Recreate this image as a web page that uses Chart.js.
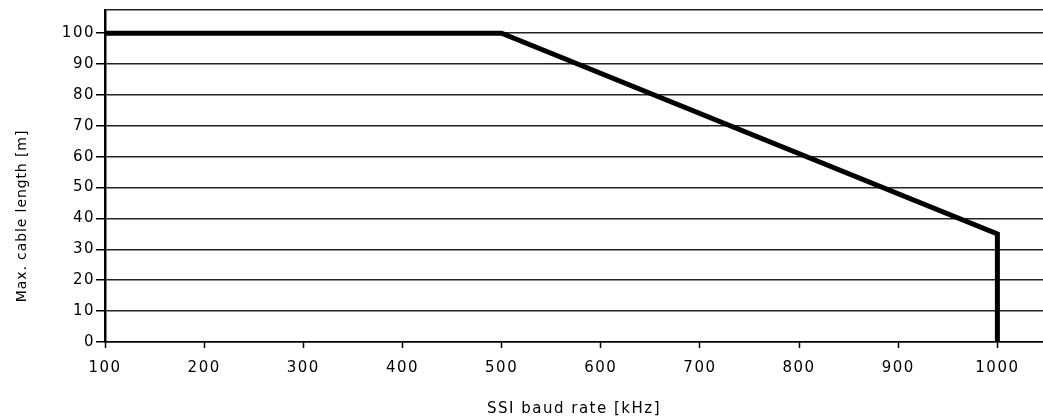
<!DOCTYPE html>
<html>
<head>
<meta charset="utf-8">
<script src="https://cdn.jsdelivr.net/npm/chart.js@4/dist/chart.umd.min.js"></script>
<style>
  html, body { margin: 0; padding: 0; background: #fff; }
  #graph { display: block; }
</style>
</head>
<body>
<canvas id="graph" width="1043" height="420"></canvas>
<script>
// Dati
const baudRate = [100, 500, 1000, 1000];     // kHz
const cableLength = [100, 100, 35, 0];       // m
const xTicks = [100, 200, 300, 400, 500, 600, 700, 800, 900, 1000];
const yTicks = [0, 10, 20, 30, 40, 50, 60, 70, 80, 90, 100];

const X_MAX = 1046;
const Y_MAX = 107.5;
const Y_TITLE = 'Max. cable length [m]';

// le scritte della scansione sono "larghe": le allargo con letterSpacing
const spacing = {
	id: 'spacing',
	beforeUpdate(chart) { chart.ctx.letterSpacing = '1.5px'; },
	beforeDraw(chart) { chart.ctx.letterSpacing = '1.5px'; }
};

// titolo asse y: nell'originale non e' centrato sull'area del grafico
const yTitle = {
	id: 'yTitle',
	afterDraw(chart) {
		const ctx = chart.ctx;
		ctx.save();
		ctx.translate(22, 216);
		ctx.rotate(-Math.PI / 2);
		ctx.font = "14px 'DejaVu Sans', sans-serif";
		ctx.letterSpacing = '0.9px';
		ctx.fillStyle = '#000';
		ctx.textAlign = 'center';
		ctx.textBaseline = 'middle';
		ctx.fillText(Y_TITLE, 0, 0);
		ctx.restore();
	}
};

const font = { family: "'DejaVu Sans', sans-serif", size: 15 };

let config = {
	type: 'line',
	data: {
		datasets: [{
			data: baudRate.map((x, i) => ({ x: x, y: cableLength[i] })),
			borderColor: '#000',
			borderWidth: 5,
			borderJoinStyle: 'miter',
			pointRadius: 0,
			tension: 0,
			fill: false
		}]
	},
	options: {
		responsive: false,
		animation: false,
		layout: { padding: { top: 6, right: 0, left: 0, bottom: 0 } },
		plugins: {
			legend: { display: false },
			tooltip: { enabled: false }
		},
		scales: {
			x: {
				type: 'linear',
				min: 100,
				max: X_MAX,
				afterBuildTicks: (scale) => { scale.ticks = xTicks.map(v => ({ value: v })); },
				afterFit: (scale) => { scale.height = 78; },
				border: { display: true, color: '#000', width: 1.5 },
				grid: { drawOnChartArea: false, tickLength: 6, tickColor: '#000', tickWidth: 1.5 },
				ticks: {
					color: '#000',
					font: font,
					padding: 11,
					maxRotation: 0,
					autoSkip: false,
					callback: (v) => String(v)
				},
				title: {
					display: true,
					text: 'SSI baud rate [kHz]',
					color: '#000',
					font: font,
					padding: { top: 0, bottom: 2 }
				}
			},
			y: {
				min: 0,
				max: Y_MAX,
				afterBuildTicks: (scale) => {
					scale.ticks = yTicks.map(v => ({ value: v }));
					scale.ticks.push({ value: Y_MAX });
				},
				afterFit: (scale) => { scale.width = 105; },
				border: { display: true, color: '#000', width: 2.5 },
				grid: {
					color: '#222',
					lineWidth: 1.5,
					tickLength: 9,
					tickWidth: 1.5,
					tickColor: (ctx) => (ctx.tick && ctx.tick.value > 100) ? 'rgba(0,0,0,0)' : '#000'
				},
				ticks: {
					color: '#000',
					font: font,
					padding: 1,
					autoSkip: false,
					callback: (v) => v > 100 ? '' : String(v)
				},
				title: { display: false }
			}
		}
	},
	plugins: [spacing, yTitle]
};

var ctxGraph = document.getElementById('graph').getContext('2d');
window.myLine = new Chart(ctxGraph, config);
</script>
</body>
</html>
